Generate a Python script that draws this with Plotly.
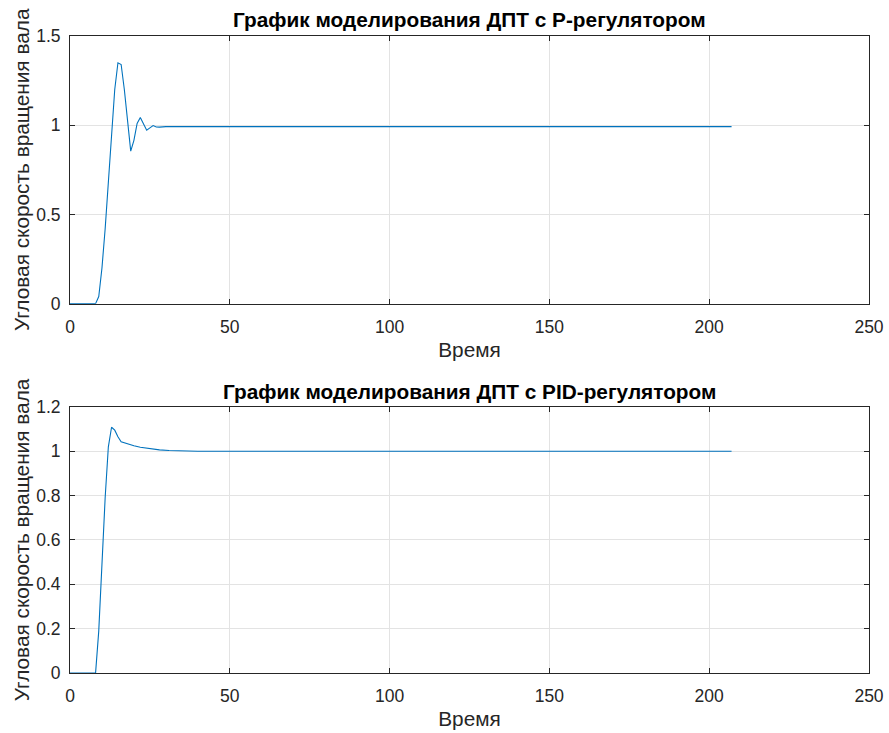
import plotly.graph_objects as go
from plotly.subplots import make_subplots

# Step response of the DC motor speed loop, P controller
t_p = [0, 8, 9, 10, 11, 12, 13, 14, 15, 16, 17, 18, 19, 20, 21, 22, 23, 24, 25, 26, 27, 28, 30, 207]
w_p = [0, 0, 0.04, 0.2, 0.42, 0.69, 0.96, 1.2, 1.35, 1.34, 1.2, 1.03, 0.855, 0.915, 1.01, 1.043, 1.005,
       0.972, 0.985, 0.998, 0.99, 0.989, 0.992, 0.992]

# Step response of the DC motor speed loop, PID controller
t_pid = [0, 8, 9, 10, 11, 12, 13, 14, 15, 16, 17, 18, 20, 22, 25, 28, 31, 35, 40, 207]
w_pid = [0, 0, 0.19, 0.5, 0.79, 1.02, 1.108, 1.095, 1.065, 1.043, 1.038, 1.033, 1.025, 1.018,
         1.011, 1.006, 1.003, 1.001, 1.0, 1.0]

x_ticks = [0, 50, 100, 150, 200, 250]
x_tick_labels = ["0", "50", "100", "150", "200", "250"]
y_ticks_p = [0, 0.5, 1, 1.5]
y_tick_labels_p = ["0", "0.5", "1", "1.5"]
y_ticks_pid = [0, 0.2, 0.4, 0.6, 0.8, 1, 1.2]
y_tick_labels_pid = ["0", "0.2", "0.4", "0.6", "0.8", "1", "1.2"]

title_p = "График моделирования ДПТ с P-регулятором"
title_pid = "График моделирования ДПТ с PID-регулятором"
x_label = "Время"
y_label = "Угловая скорость вращения вала"

LINE = "#0072BD"
AX = "#262626"
GRID = "#e3e3e3"
FONT = "Liberation Sans, Arial, Helvetica, sans-serif"

W, H = 889, 733
ML, MR, MT, MB = 70, 19.5, 36, 60.3
ph = H - MT - MB

def py(pix):
    # pixel row -> paper y
    return (H - MB - pix) / ph

fig = make_subplots(rows=2, cols=1)
fig.add_trace(go.Scatter(x=t_p, y=w_p, mode="lines", line=dict(color=LINE, width=1.1),
                         showlegend=False), row=1, col=1)
fig.add_trace(go.Scatter(x=t_pid, y=w_pid, mode="lines", line=dict(color=LINE, width=1.1),
                         showlegend=False), row=2, col=1)

common_axis = dict(
    showline=True, linecolor=AX, linewidth=1, mirror="ticks",
    ticks="inside", ticklen=5, tickcolor=AX, tickwidth=1,
    showgrid=True, gridcolor=GRID, gridwidth=1, zeroline=False,
    tickfont=dict(family=FONT, size=17.5, color=AX),
    title_font=dict(family=FONT, size=20.8, color=AX),
)

fig.update_xaxes(**common_axis, range=[0, 250], tickvals=x_ticks, ticktext=x_tick_labels,
                 ticklabelstandoff=7, title_text=x_label, title_standoff=6)
fig.update_yaxes(**common_axis, ticklabelstandoff=5, title_text=y_label, title_standoff=0)

fig.update_xaxes(domain=[0, 1], row=1, col=1)
fig.update_xaxes(domain=[0, 1], row=2, col=1)
fig.update_yaxes(domain=[py(303.5), 1], range=[0, 1.5], tickvals=y_ticks_p,
                 ticktext=y_tick_labels_p, row=1, col=1)
fig.update_yaxes(domain=[0, py(406.7)], range=[0, 1.2], tickvals=y_ticks_pid,
                 ticktext=y_tick_labels_pid, row=2, col=1)

for text, pix in ((title_p, 20), (title_pid, 391.5)):
    fig.add_annotation(text="<b>%s</b>" % text, xref="paper", yref="paper", x=0.5, y=py(pix),
                       xanchor="center", yanchor="middle", showarrow=False,
                       font=dict(family=FONT, size=20.8, color="#000000"))

fig.update_layout(
    width=W, height=H,
    margin=dict(l=ML, r=MR, t=MT, b=MB, autoexpand=False),
    paper_bgcolor="white", plot_bgcolor="white",
)

fig.write_html("out.html")
